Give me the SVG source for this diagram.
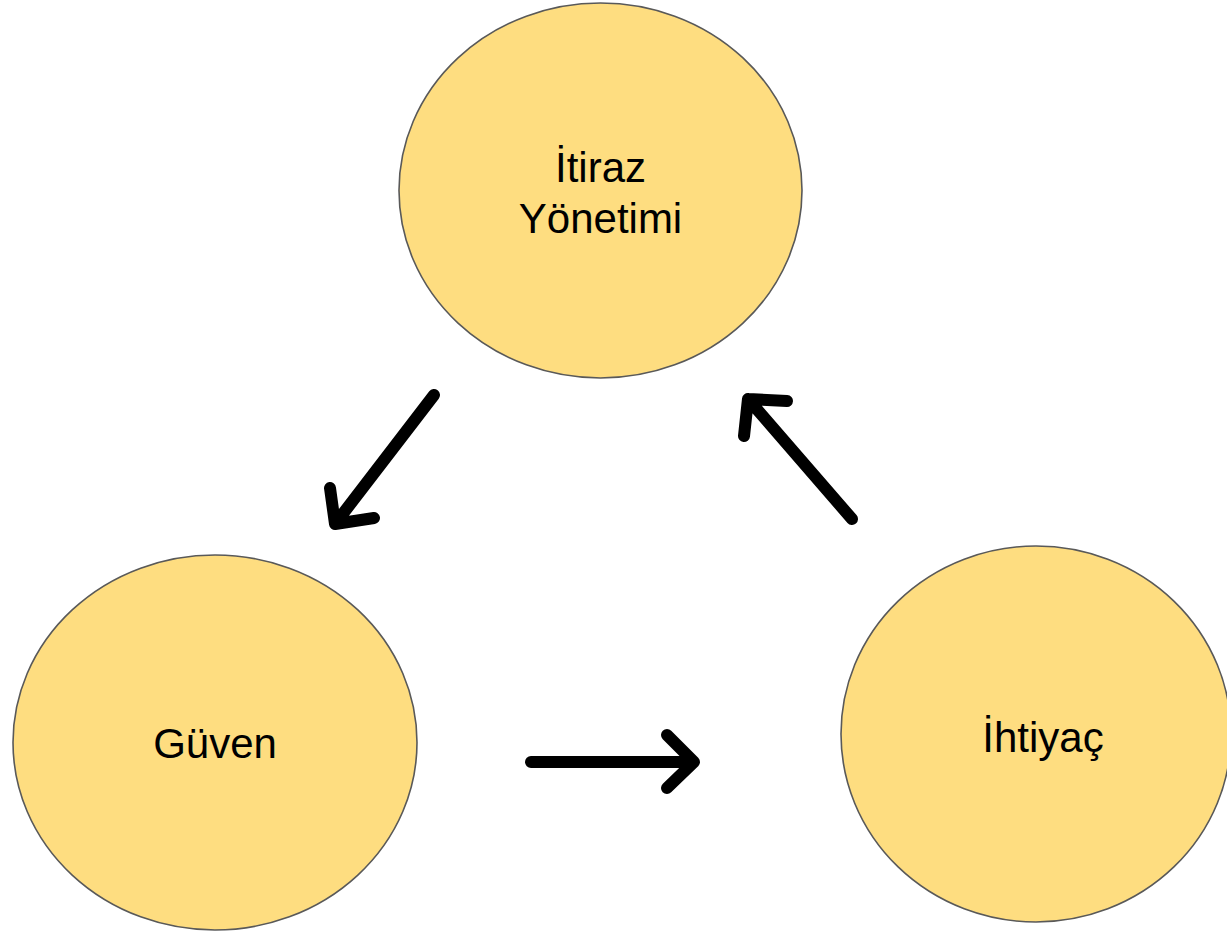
<svg xmlns="http://www.w3.org/2000/svg" width="1227" height="932" viewBox="0 0 1227 932">
  <style>
    .node { fill: #FEDD80; stroke: #595959; stroke-width: 1.6; }
    .label { font-family: "Liberation Sans", Arial, sans-serif; font-size: 42px; fill: #000; text-anchor: middle; }
    .conn { fill: none; stroke: #000; stroke-width: 12; stroke-linecap: round; stroke-linejoin: round; }
  </style>
  <rect width="1227" height="932" fill="#fff"/>
  <g id="itiraz-yonetimi">
    <ellipse class="node" cx="600.5" cy="190.5" rx="201.5" ry="187.5"/>
    <text class="label" x="600.5" y="182">İtiraz</text>
    <text class="label" x="600.5" y="233">Yönetimi</text>
  </g>
  <g id="guven">
    <ellipse class="node" cx="215" cy="742.5" rx="202" ry="187.5"/>
    <text class="label" x="215" y="758">Güven</text>
  </g>
  <g id="ihtiyac">
    <ellipse class="node" cx="1036" cy="734" rx="195" ry="188"/>
    <text class="label" x="1043" y="752">İhtiyaç</text>
  </g>
  <g id="connectors">
    <path class="conn" d="M434 395 L335 524 M330 488 L335 524 L374 518"/>
    <path class="conn" d="M852 519 L748 399 M744 436 L748 399 L787 401"/>
    <path class="conn" d="M531 762 L694 762 M667 735 L694 762 L667 788"/>
  </g>
</svg>
